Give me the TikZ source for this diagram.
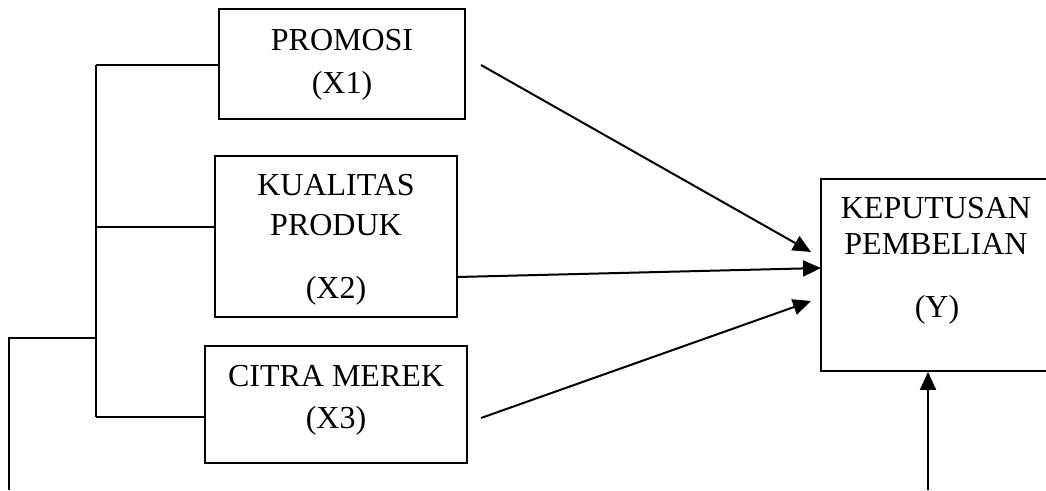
\documentclass[tikz,border=0pt]{standalone}
\usepackage{fontspec}
\setmainfont{Liberation Serif}
\usetikzlibrary{arrows.meta}
\tikzset{
  box/.style={draw, line width=1.8pt, rectangle, inner sep=0pt},
  lbl/.style={anchor=base, inner sep=0pt, font=\fontsize{32}{38}\selectfont},
  conn/.style={line width=2pt},
  arr/.style={line width=2pt, -{Triangle[length=18pt,width=16pt]}}
}
\begin{document}
\begin{tikzpicture}[x=1pt,y=-1pt]
\useasboundingbox (0,0) rectangle (1046,490);
% boxes
\node[box, minimum width=246pt, minimum height=110pt] (x1) at (342,64) {};
\node[box, minimum width=242pt, minimum height=161pt] (x2) at (336,236.5) {};
\node[box, minimum width=262pt, minimum height=117pt] (x3) at (336,404.5) {};
\node[box, minimum width=230pt, minimum height=192pt] (y) at (936,275) {};
% labels
\node[lbl] (x1a) at (342,50) {PROMOSI};
\node[lbl] (x1b) at (342,93) {(X1)};
\node[lbl] (x2a) at (336,195) {KUALITAS};
\node[lbl] (x2b) at (336,235) {PRODUK};
\node[lbl] (x2c) at (336,298) {(X2)};
\node[lbl] (x3a) at (336,386) {CITRA MEREK};
\node[lbl] (x3b) at (336,428) {(X3)};
\node[lbl] (ya) at (936,218) {KEPUTUSAN};
\node[lbl] (yb) at (936,254) {PEMBELIAN};
\node[lbl] (yc) at (937,317) {(Y)};
% bracket
\coordinate (b1) at (96,65);
\coordinate (b2) at (96,227);
\coordinate (b3) at (96,417);
\coordinate (bm) at (96,338);
\coordinate (l0) at (9,490);
\coordinate (l1) at (9,338);
\draw[conn] (b1) -- (b3);
\draw[conn] (b1) -- (x1.west |- b1);
\draw[conn] (b2) -- (x2.west |- b2);
\draw[conn] (b3) -- (x3.west |- b3);
\draw[conn] (l0) -- (l1) -- (bm);
% arrows
\coordinate (s1) at (481,65);
\coordinate (e1) at (811,252);
\coordinate (s2) at (457,277);
\coordinate (e2) at (821,268);
\coordinate (s3) at (481,418);
\coordinate (e3) at (811,301);
\coordinate (s4) at (928,490);
\draw[arr] (s1) -- (e1);
\draw[arr] (s2) -- (e2);
\draw[arr] (s3) -- (e3);
\draw[arr] (s4) -- (s4 |- y.south);
\end{tikzpicture}
\end{document}
